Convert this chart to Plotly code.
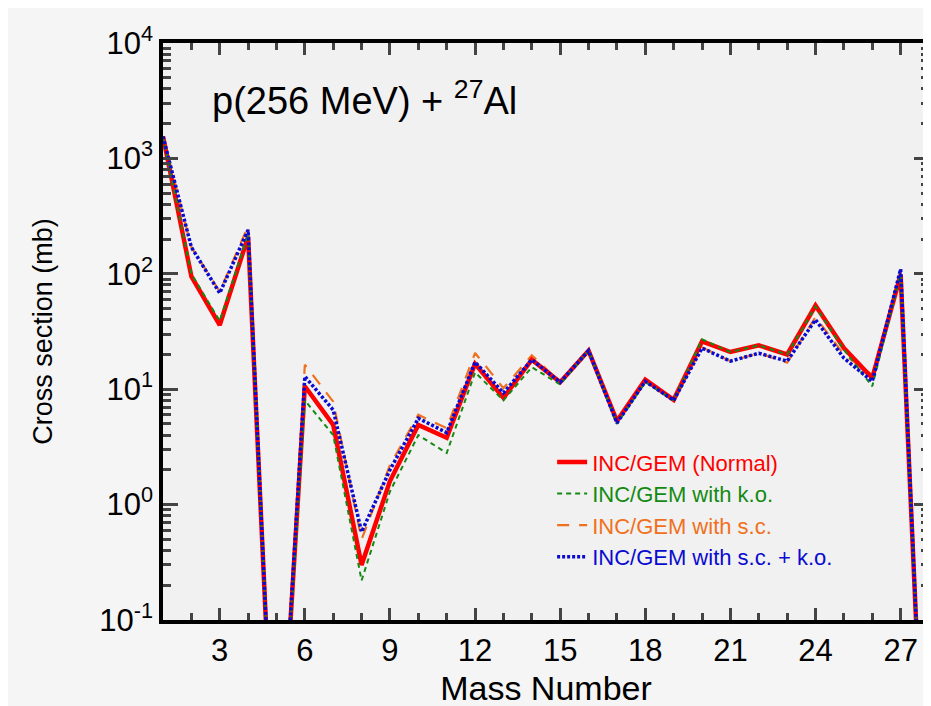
import plotly.graph_objects as go

mass = list(range(1, 29))

normal = [1550, 95, 36, 210, 0.001, 10.6, 4.9, 0.30, 1.6, 4.9, 3.8, 16.6, 8.4, 18, 11.5, 21.6,
          5.3, 12.1, 8.1, 26, 21, 24, 20, 53, 22.7, 12.5, 98, 0.0003]
ko = [1550, 100, 39, 220, 0.001, 8.0, 4.0, 0.22, 1.3, 4.0, 2.8, 14, 8.0, 15.5, 11, 21.6,
      5.0, 11.5, 8.0, 27, 21, 24, 20, 52, 22, 10.6, 100, 0.0003]
sc = [1550, 170, 70, 260, 0.001, 16.3, 7.8, 0.50, 2.2, 6.0, 4.6, 20.6, 10.2, 19.7, 11.5, 21.6,
      5.2, 11.8, 8.0, 23, 17.5, 20.5, 17, 42, 20, 13.3, 105, 0.0003]
sc_ko = [1550, 170, 68, 240, 0.001, 12.9, 6.6, 0.58, 2.0, 5.6, 4.2, 17.2, 9.3, 18, 11.5, 21.6,
         5.1, 11.7, 8.0, 22.7, 17.5, 20.5, 17.5, 40, 18.6, 11.7, 110, 0.0003]

names = ["INC/GEM (Normal)", "INC/GEM with k.o.", "INC/GEM with s.c.", "INC/GEM with s.c. + k.o."]
colors = ["#ff0000", "#138a13", "#f07020", "#0a0ad0"]

ytickvals = [0.1, 1, 10, 100, 1000, 10000]
yticktext = ["10<sup>-1</sup>", "10<sup>0</sup>", "10<sup>1</sup>", "10<sup>2</sup>", "10<sup>3</sup>", "10<sup>4</sup>"]
xtickvals = [3, 6, 9, 12, 15, 18, 21, 24, 27]
yminor = [m * 10.0 ** e for e in range(-1, 4) for m in range(2, 10)]
xminor = list(range(1, 29))

FONT = "Liberation Sans, Arial, sans-serif"

fig = go.Figure()
fig.add_trace(go.Scatter(x=mass, y=sc, mode="lines", name=f"<span style='color:{colors[2]}'>{names[2]}</span>",
                         line=dict(color=colors[2], width=2.2, dash="12px,10px"), legendrank=3))
fig.add_trace(go.Scatter(x=mass, y=normal, mode="lines", name=f"<span style='color:{colors[0]}'>{names[0]}</span>",
                         line=dict(color=colors[0], width=4.5), legendrank=1))
fig.add_trace(go.Scatter(x=mass, y=ko, mode="lines", name=f"<span style='color:{colors[1]}'>{names[1]}</span>",
                         line=dict(color=colors[1], width=2, dash="5px,4px"), legendrank=2))
fig.add_trace(go.Scatter(x=mass, y=sc_ko, mode="lines", name=f"<span style='color:{colors[3]}'>{names[3]}</span>",
                         line=dict(color=colors[3], width=3.5, dash="3px,2px"), legendrank=4))

fig.update_layout(
    width=931, height=706,
    margin=dict(l=155, r=6, t=35, b=94),
    paper_bgcolor="#f5f5f5", plot_bgcolor="#f1f1f1",
    font=dict(family=FONT, color="black"),
    showlegend=True,
    legend=dict(x=0.508, y=0.31, xanchor="left", yanchor="top", bgcolor="rgba(0,0,0,0)",
                font=dict(size=22, family=FONT), tracegroupgap=0, itemwidth=30),
    annotations=[dict(text="p(256 MeV) + <sup>27</sup>Al", x=0.061, y=0.905, xref="paper", yref="paper",
                      xanchor="left", yanchor="middle", showarrow=False, font=dict(size=38, family=FONT))],
)
fig.update_xaxes(
    range=[1, 28], tickvals=xtickvals, ticks="inside", ticklen=12, tickwidth=3,
    showline=True, linewidth=3.5, linecolor="black", mirror="allticks", showgrid=False, zeroline=False,
    tickfont=dict(size=31), title=dict(text="Mass Number", font=dict(size=34), standoff=10),
    minor=dict(tickvals=xminor, ticks="inside", ticklen=7, tickwidth=2.5, showgrid=False),
)
fig.update_yaxes(
    type="log", range=[-1, 4], tickvals=ytickvals, ticktext=yticktext, ticks="inside", ticklen=15, tickwidth=3,
    showline=True, linewidth=3.5, linecolor="black", mirror="allticks", showgrid=False, zeroline=False,
    tickfont=dict(size=31), title=dict(text="Cross section (mb)", font=dict(size=27), standoff=40),
    minor=dict(tickvals=yminor, ticks="inside", ticklen=8, tickwidth=2.5, showgrid=False),
)
fig.write_html("out.html")
